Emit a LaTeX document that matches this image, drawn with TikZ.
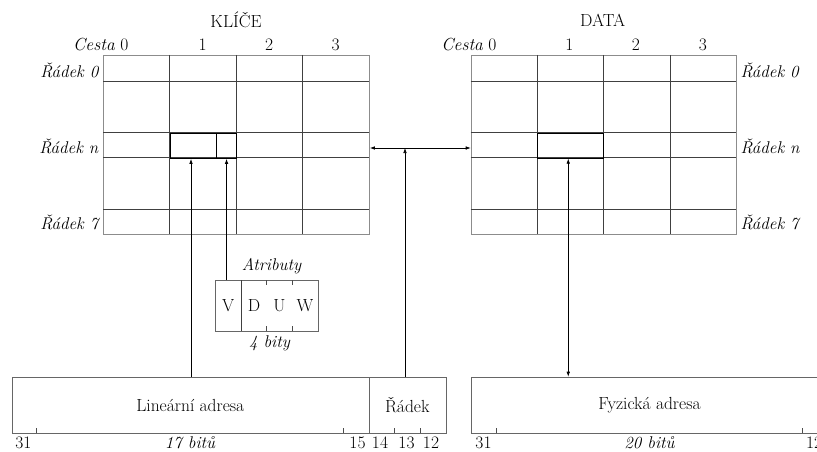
\documentclass[tikz,border=0pt]{standalone}
\usetikzlibrary{arrows.meta,calc}
\begin{document}
\begin{tikzpicture}[x=1pt,y=-1pt,
  every node/.style={font=\fontsize{17.5}{20}\selectfont},
  gridbox/.style={draw=black!45,line width=0.9pt,inner sep=0pt,anchor=north west},
  hilite/.style={draw=black,line width=1.4pt,inner sep=0pt,anchor=north west},
  fieldbox/.style={draw=black!60,line width=0.9pt,inner sep=0pt,anchor=north west},
  gl/.style={draw=black!75,line width=0.8pt},
  arr/.style={line width=0.7pt,-{Latex[length=5pt,width=3.6pt]}},
  darr/.style={line width=0.7pt,{Latex[length=5pt,width=3.6pt]}-{Latex[length=5pt,width=3.6pt]}},
  tick/.style={draw=black!70,line width=0.7pt},
  lbl/.style={inner sep=0pt},
  ilbl/.style={inner sep=0pt,font=\fontsize{17}{20}\selectfont\itshape}]
\useasboundingbox (0,0) rectangle (817,452);
% ---------- KLICE grid ----------
\node[gridbox,minimum width=266pt,minimum height=179pt] (kg) at (103,55) {};
\foreach \x in {169.5,236,302.5} \draw[gl] (\x,55) -- (\x,234);
\foreach \y in {81,132.5,157.5,209} \draw[gl] (103,\y) -- (369,\y);
\node[hilite,minimum width=46.2pt,minimum height=25pt] (kc) at (169.5,132.5) {};
\node[hilite,minimum width=20.3pt,minimum height=25pt] (ka) at (215.7,132.5) {};
\node[lbl] (ktitle) at (236,20) {KLÍČE};
\node[lbl,anchor=east] (kh0) at (128.5,44.5) {\textit{Cesta} 0};
\node[lbl] (kh1) at (202.7,44.5) {1};
\node[lbl] (kh2) at (269.2,44.5) {2};
\node[lbl] (kh3) at (335.7,44.5) {3};
\node[ilbl,anchor=east] (kr0) at (98.5,70) {Řádek 0};
\node[ilbl,anchor=east] (krn) at (98.5,146.5) {Řádek n};
\node[ilbl,anchor=east] (kr7) at (98.5,222) {Řádek 7};
% ---------- DATA grid ----------
\node[gridbox,minimum width=265pt,minimum height=179pt] (dg) at (470.7,55) {};
\foreach \x in {537.3,603.3,670} \draw[gl] (\x,55) -- (\x,234);
\foreach \y in {81,132.5,157.5,209} \draw[gl] (470.7,\y) -- (735.7,\y);
\node[hilite,line width=1.1pt,minimum width=66pt,minimum height=25pt] (dc) at (537.3,132.5) {};
\node[lbl] (dtitle) at (602.7,20) {DATA};
\node[lbl,anchor=east] (dh0) at (496.7,44.5) {\textit{Cesta} 0};
\node[lbl] (dh1) at (569.5,44.5) {1};
\node[lbl] (dh2) at (636,44.5) {2};
\node[lbl] (dh3) at (703,44.5) {3};
\node[ilbl,anchor=west] (dr0) at (740.5,70) {Řádek 0};
\node[ilbl,anchor=west] (drn) at (740.5,146.5) {Řádek n};
\node[ilbl,anchor=west] (dr7) at (740.5,222) {Řádek 7};
% ---------- attributes ----------
\node[fieldbox,minimum width=102.7pt,minimum height=50.7pt] (attr) at (215,280) {};
\draw[gl] (241,280) -- (241,330.7);
\foreach \x in {266.7,292.3} {\draw[tick] (\x,280) -- (\x,284.5); \draw[tick] (\x,330.7) -- (\x,326.2);}
\node[lbl] (av) at (228.3,306) {V};
\node[lbl] (ad) at (254,306) {D};
\node[lbl] (au) at (279.5,306) {U};
\node[lbl] (aw) at (305,306) {W};
\node[ilbl] (atit) at (271.5,266.5) {Atributy};
\node[ilbl] (abits) at (269.5,343.5) {4 bity};
% ---------- address fields ----------
\node[fieldbox,minimum width=357.3pt,minimum height=56pt] (lin) at (11.7,376.7) {};
\node[lbl] (lintext) at (190.3,405) {Lineární adresa};
\node[fieldbox,minimum width=76.7pt,minimum height=56pt] (rad) at (369,376.7) {};
\node[lbl] (radtext) at (407.3,405) {Řádek};
\node[fieldbox,minimum width=357.6pt,minimum height=56pt] (fyz) at (470.7,376.7) {};
\node[lbl] (fyztext) at (649.5,405) {Fyzická adresa};
\foreach \x in {36.7,343.3,394.3,420,496.3,802.7} \draw[tick] (\x,432.7) -- (\x,428);
\node[lbl] (b31) at (23.3,442.5) {31};
\node[ilbl] (b17) at (190,443) {17 bitů};
\node[lbl] (b15) at (357.5,442.5) {15};
\node[lbl] (b14) at (380,442.5) {14};
\node[lbl] (b13) at (406.5,442.5) {13};
\node[lbl] (b12) at (431,442.5) {12};
\node[lbl] (c31) at (483.5,442.5) {31};
\node[ilbl] (b20) at (649.5,443) {20 bitů};
\node[lbl,anchor=west] (c12) at (806,442.5) {12};
% ---------- connectors ----------
\coordinate (rowlink) at (405,148);
\draw[arr] ([xshift=-2.3pt]kc.south |- lin.north) -- ([xshift=-2.3pt]kc.south);
\draw[arr] (ka.south |- attr.north) -- (ka.south);
\draw[arr] (rad.north -| rowlink) -- (rowlink);
\draw[darr] (kg.east |- rowlink) -- (dg.west |- rowlink);
\draw[darr] ([xshift=-2.6pt]dc.south) -- ([xshift=-2.6pt]dc.south |- fyz.north);
\end{tikzpicture}
\end{document}
